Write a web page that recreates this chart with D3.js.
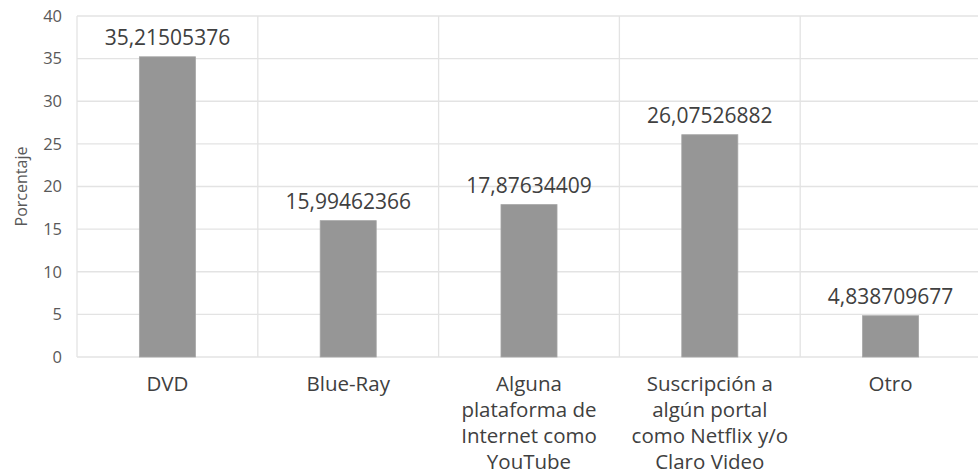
<!DOCTYPE html>
<html>
<head>
<meta charset="utf-8">
<script src="https://cdn.jsdelivr.net/npm/d3@7"></script>
<style>
  body { margin: 0; background: #fff; }
  text { font-family: "Open Sans", "Noto Sans", sans-serif; }
</style>
</head>
<body>
<div id="chart"></div>
<script>
const categories = [
    ['DVD'],
    ['Blue-Ray'],
    ['Alguna', 'plataforma de', 'Internet como', 'YouTube'],
    ['Suscripción a', 'algún portal', 'como Netflix y/o', 'Claro Video'],
    ['Otro']
];
const values = [35.21505376, 15.99462366, 17.87634409, 26.07526882, 4.838709677];
const valueLabels = ['35,21505376', '15,99462366', '17,87634409', '26,07526882', '4,838709677'];
const yTicks = [0, 5, 10, 15, 20, 25, 30, 35, 40];

const W = 978, H = 476;
const margin = { top: 16, right: -3, bottom: 119, left: 77 };
const width = W - margin.left - margin.right;
const height = H - margin.top - margin.bottom;

const svg = d3.select('#chart')
    .append('svg')
        .attr('width', W)
        .attr('height', H)
    .append('g')
        .attr('transform', 'translate(' + margin.left + ',' + margin.top + ')');

const keys = categories.map((d, i) => i);

const x = d3.scaleBand()
    .domain(keys)
    .range([0, width])
    .paddingInner(0)
    .paddingOuter(0);

const y = d3.scaleLinear()
    .domain([0, 40])
    .range([height, 0]);

// horizontal gridlines
svg.append('g')
    .selectAll('line')
    .data(yTicks)
    .enter().append('line')
        .attr('x1', 0)
        .attr('x2', width)
        .attr('y1', d => y(d))
        .attr('y2', d => y(d))
        .style('stroke', '#e3e3e3')
        .style('stroke-width', 1.3);

// vertical category separators
svg.append('g')
    .selectAll('line')
    .data(keys.concat([keys.length]))
    .enter().append('line')
        .attr('x1', d => d < keys.length ? x(d) : width)
        .attr('x2', d => d < keys.length ? x(d) : width)
        .attr('y1', 0)
        .attr('y2', height)
        .style('stroke', '#e3e3e3')
        .style('stroke-width', 1.3);

// y axis tick labels
const yAxis = d3.axisLeft(y).tickValues(yTicks).tickSize(0).tickPadding(15);
svg.append('g')
    .attr('class', 'y axis')
    .call(yAxis)
    .call(g => g.select('.domain').remove())
    .selectAll('text')
        .style('font-size', '16.5px')
        .style('fill', '#595959');

svg.append('text')
    .attr('transform', 'translate(' + (-50) + ',' + (height / 2) + ') rotate(-90)')
    .attr('text-anchor', 'middle')
    .style('font-size', '16px')
    .style('fill', '#595959')
    .text('Porcentaje');

const barW = x.bandwidth() * 0.31;

svg.selectAll('.bar')
    .data(values)
    .enter().append('rect')
        .attr('class', 'bar')
        .attr('x', (d, i) => x(i) + x.bandwidth() / 2 - barW / 2)
        .attr('width', barW)
        .attr('y', d => y(d))
        .attr('height', d => height - y(d))
        .style('fill', '#969696')
        .style('stroke', '#a6a6a6')
        .style('stroke-width', 0.8);

svg.selectAll('.val')
    .data(values)
    .enter().append('text')
        .attr('class', 'val')
        .attr('x', (d, i) => x(i) + x.bandwidth() / 2)
        .attr('y', d => y(d) - 11.5)
        .attr('text-anchor', 'middle')
        .style('font-size', '21px')
        .style('fill', '#404040')
        .text((d, i) => valueLabels[i]);

// category labels
const cat = svg.selectAll('.cat')
    .data(categories)
    .enter().append('text')
        .attr('class', 'cat')
        .attr('x', (d, i) => x(i) + x.bandwidth() / 2)
        .attr('y', height + 34)
        .attr('text-anchor', 'middle')
        .style('font-size', '20.5px')
        .style('fill', '#404040');

cat.selectAll('tspan')
    .data(d => d)
    .enter().append('tspan')
        .attr('x', function () { return d3.select(this.parentNode).attr('x'); })
        .attr('dy', (d, i) => i === 0 ? 0 : 26)
        .text(d => d);
</script>
</body>
</html>
